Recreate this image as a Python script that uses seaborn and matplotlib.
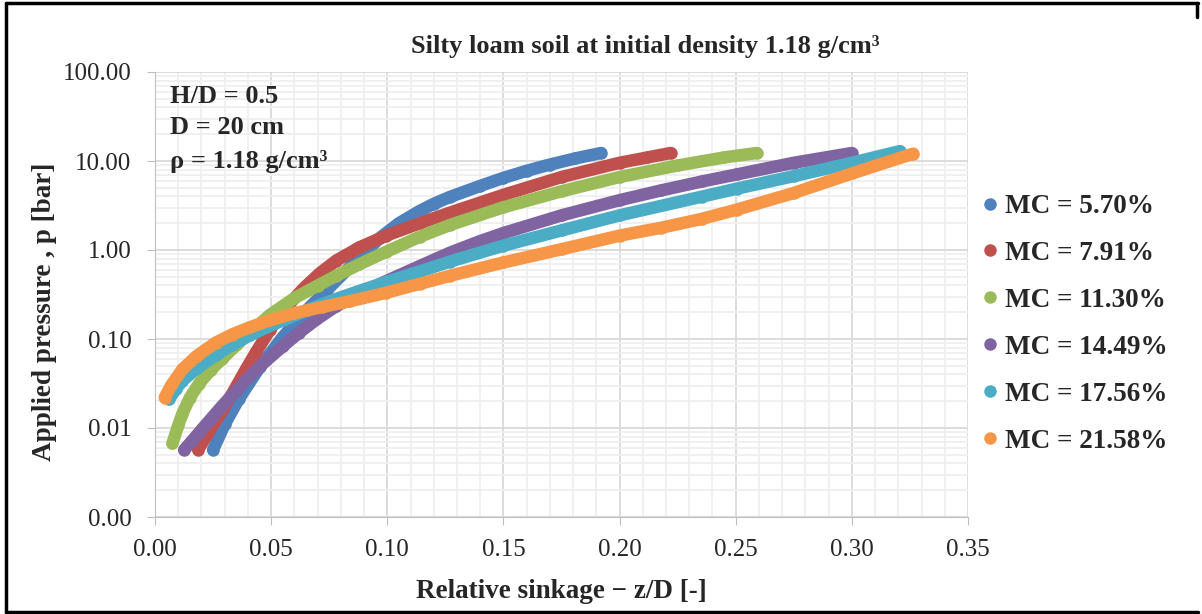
import matplotlib
matplotlib.use("Agg")
import matplotlib.pyplot as plt
from matplotlib.lines import Line2D
from matplotlib.ticker import FixedLocator, FuncFormatter, LogLocator, MultipleLocator
import seaborn as sns
import pandas as pd

# values (relative sinkage z/D, pressure in bar)
labels = ["MC = 5.70%", "MC = 7.91%", "MC = 11.30%", "MC = 14.49%", "MC = 17.56%", "MC = 21.58%"]
colors = ["#4F81BD", "#C0504D", "#9BBB59", "#8064A2", "#4BACC6", "#F79646"]

x_mc570 = [0.025, 0.030, 0.036, 0.045, 0.055, 0.064, 0.074, 0.085, 0.097, 0.105, 0.114, 0.120,
           0.127, 0.140, 0.150, 0.160, 0.170, 0.181, 0.192]
p_mc570 = [0.0057, 0.011, 0.021, 0.048, 0.105, 0.195, 0.355, 0.69, 1.38, 2.0, 2.75, 3.3,
           3.95, 5.25, 6.46, 7.76, 9.12, 10.7, 12.3]

x_mc791 = [0.0186, 0.0234, 0.029, 0.0335, 0.039, 0.0436, 0.0494, 0.056, 0.064, 0.071, 0.078,
           0.088, 0.0995, 0.114, 0.127, 0.150, 0.175, 0.200, 0.212, 0.222]
p_mc791 = [0.0057, 0.0093, 0.0158, 0.025, 0.045, 0.072, 0.126, 0.219, 0.372, 0.55, 0.76,
           1.07, 1.45, 2.0, 2.63, 4.17, 6.6, 9.55, 10.96, 12.3]

x_mc1130 = [0.0075, 0.010, 0.0118, 0.015, 0.019, 0.024, 0.029, 0.035, 0.0407, 0.0494, 0.060,
            0.070, 0.078, 0.088, 0.0995, 0.114, 0.127, 0.150, 0.175, 0.200, 0.225, 0.245, 0.259]
p_mc1130 = [0.0067, 0.0107, 0.0145, 0.0219, 0.0316, 0.0447, 0.0603, 0.0851, 0.1175, 0.186, 0.288,
            0.398, 0.513, 0.692, 0.955, 1.41, 1.91, 3.02, 4.57, 6.61, 8.91, 10.96, 12.3]

x_mc1449 = [0.0126, 0.016, 0.019, 0.024, 0.029, 0.035, 0.0407, 0.048, 0.0551, 0.062, 0.0695,
            0.078, 0.088, 0.0995, 0.114, 0.127, 0.140, 0.150, 0.175, 0.200, 0.218, 0.2355,
            0.2506, 0.275, 0.300]
p_mc1449 = [0.0057, 0.0072, 0.0089, 0.0126, 0.0178, 0.0263, 0.038, 0.0575, 0.0832, 0.1175, 0.166,
            0.234, 0.324, 0.447, 0.661, 0.933, 1.26, 1.55, 2.45, 3.63, 4.68, 5.89,
            7.08, 9.55, 12.3]

x_mc1756 = [0.006, 0.009, 0.0118, 0.018, 0.0262, 0.033, 0.0407, 0.048, 0.0551, 0.066, 0.078,
            0.088, 0.0995, 0.114, 0.127, 0.150, 0.175, 0.200, 0.2355, 0.2506, 0.275, 0.300, 0.3206]
p_mc1756 = [0.021, 0.0275, 0.0339, 0.0468, 0.066, 0.0851, 0.1096, 0.135, 0.162, 0.214, 0.282,
            0.347, 0.437, 0.575, 0.741, 1.12, 1.66, 2.45, 3.98, 4.9, 6.76, 9.55, 12.9]

x_mc2158 = [0.0042, 0.007, 0.0118, 0.018, 0.0262, 0.033, 0.0407, 0.0494, 0.060, 0.072, 0.084,
            0.0995, 0.114, 0.127, 0.150, 0.175, 0.200, 0.218, 0.2355, 0.2506, 0.275, 0.300, 0.3264]
p_mc2158 = [0.022, 0.0302, 0.0457, 0.0646, 0.0912, 0.112, 0.135, 0.162, 0.195, 0.229, 0.266,
            0.331, 0.417, 0.513, 0.724, 1.02, 1.45, 1.78, 2.24, 2.85, 4.37, 7.24, 12.1]

xs = [x_mc570, x_mc791, x_mc1130, x_mc1449, x_mc1756, x_mc2158]
ps = [p_mc570, p_mc791, p_mc1130, p_mc1449, p_mc1756, p_mc2158]

rows = []
for lab, xv, pv in zip(labels, xs, ps):
    for a, b in zip(xv, pv):
        rows.append({"MC": lab, "x": a, "p": b})
df = pd.DataFrame(rows)

sns.set_style("white")
plt.rcParams["font.family"] = ["Liberation Serif", "DejaVu Serif"]

fig = plt.figure(figsize=(12.02, 6.14), dpi=100)
ax = fig.add_axes([155 / 1202, 1 - 517 / 614, (968 - 155) / 1202, (517 - 72) / 614])

sns.lineplot(data=df, x="x", y="p", hue="MC", palette=colors, hue_order=labels,
             sort=False, estimator=None, units="MC", linewidth=9,
             marker="o", markersize=9, markeredgewidth=0,
             solid_capstyle="round", solid_joinstyle="round", legend=False, ax=ax)

ax.set_yscale("log")
ax.set_xlim(0, 0.35)
ax.set_ylim(0.001, 100)
ax.xaxis.set_major_locator(MultipleLocator(0.05))
ax.xaxis.set_minor_locator(MultipleLocator(0.01))
ax.xaxis.set_major_formatter(FuncFormatter(lambda v, _: f"{v:.2f}"))
ax.yaxis.set_major_locator(FixedLocator([0.001, 0.01, 0.1, 1, 10, 100]))
ax.yaxis.set_minor_locator(LogLocator(base=10, subs=range(2, 10), numticks=20))
ax.yaxis.set_major_formatter(FuncFormatter(lambda v, _: f"{v:.2f}"))
ax.yaxis.set_minor_formatter(FuncFormatter(lambda v, _: ""))

ax.grid(which="major", color="#d9d9d9", linewidth=1.3)
ax.grid(which="minor", color="#efefef", linewidth=1.3)
ax.set_axisbelow(True)
for side in ["top", "right"]:
    ax.spines[side].set_visible(False)
ax.spines["left"].set_color("#bfbfbf")
ax.spines["bottom"].set_color("#bfbfbf")
ax.tick_params(axis="both", which="major", length=6, color="#bfbfbf", labelsize=18,
               direction="out", left=True, bottom=True)
ax.tick_params(axis="y", which="major", pad=11)
ax.tick_params(axis="x", which="major", pad=10)
ax.tick_params(which="minor", length=0)

ax.set_xlabel("Relative sinkage \u2212 z/D [-]", fontsize=19.5, fontweight="bold", labelpad=13)
ax.set_ylabel("Applied pressure , p [bar]", fontsize=19.5, fontweight="bold")
ax.yaxis.set_label_coords(-0.121, 0.461)
fig.text(645 / 1202, 1 - 47 / 614, "Silty loam soil at initial density 1.18 g/cm\u00b3",
         fontsize=19, fontweight="bold", ha="center", va="center")

for ty, txt in zip([0.946, 0.875, 0.799], ["H/D = 0.5", "D = 20 cm", "\u03c1 = 1.18 g/cm\u00b3"]):
    ax.text(0.018, ty, txt, transform=ax.transAxes, fontsize=19, fontweight="bold",
            va="center", ha="left")

handles = [Line2D([], [], linestyle="none", marker="o", markersize=9, markeredgewidth=0,
                  color=c, label=l) for c, l in zip(colors, labels)]
ax.legend(handles=handles, loc="center left", bbox_to_anchor=(1.006, 0.434), frameon=False,
          prop={"size": 19.5, "weight": "bold"}, handlelength=0.5, handletextpad=0.3,
          labelspacing=0.81, borderaxespad=0)

# outer frame of the exported chart
for seg in [([0.005, 0.005], [0.003, 0.995]), ([0.005, 0.997], [0.995, 0.995]),
            ([0.005, 0.997], [0.004, 0.004]), ([0.996, 0.996], [0.995, 0.972])]:
    fig.add_artist(Line2D(seg[0], seg[1], transform=fig.transFigure, color="black", linewidth=2.5))

fig.savefig("out.png", dpi=100)
